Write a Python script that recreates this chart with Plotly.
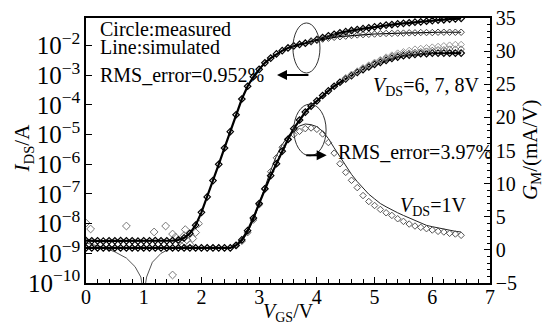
import plotly.graph_objects as go

# ---------------- data ----------------
vgs = [0.0, 0.1, 0.2, 0.3, 0.4, 0.5, 0.6, 0.7, 0.8, 0.9,
       1.0, 1.1, 1.2, 1.3, 1.4, 1.5, 1.6, 1.7, 1.8, 1.9,
       2.0, 2.1, 2.2, 2.3, 2.4, 2.5, 2.6, 2.7, 2.8, 2.9,
       3.0, 3.1, 3.2, 3.3, 3.4, 3.5, 3.6, 3.7, 3.8, 3.9,
       4.0, 4.1, 4.2, 4.3, 4.4, 4.5, 4.6, 4.7, 4.8, 4.9,
       5.0, 5.1, 5.2, 5.3, 5.4, 5.5, 5.6, 5.7, 5.8, 5.9,
       6.0, 6.1, 6.2, 6.3, 6.4, 6.5]

# log10(IDS / A), VDS = 6,7,8 V (upper branch)
ids_log_upper = [-8.57, -8.58, -8.58, -8.59, -8.58, -8.58, -8.57, -8.58, -8.58, -8.59,
                 -8.58, -8.58, -8.57, -8.58, -8.58, -8.57, -8.55, -8.48, -8.33, -8.05,
                 -7.62, -7.10, -6.55, -6.00, -5.45, -4.90, -4.33, -3.80, -3.37, -3.05,
                 -2.80, -2.58, -2.42, -2.28, -2.17, -2.08, -2.01, -1.96, -1.92, -1.86,
                 -1.80, -1.73, -1.67, -1.62, -1.57, -1.53, -1.49, -1.46, -1.43, -1.40,
                 -1.37, -1.34, -1.31, -1.29, -1.27, -1.25, -1.23, -1.21, -1.20, -1.18,
                 -1.16, -1.14, -1.13, -1.11, -1.10, -1.08]
# lower branch at high VGS (from VGS = 3.9 V)
ids_log_lower = [-1.86, -1.82, -1.78, -1.75, -1.72, -1.70, -1.68, -1.66, -1.64, -1.63,
                 -1.62, -1.61, -1.60, -1.59, -1.59, -1.58, -1.58, -1.57, -1.57, -1.56,
                 -1.56, -1.56, -1.55, -1.55, -1.55, -1.55, -1.55]
# scattered noisy measured points in sub-threshold region
noise_vgs = [0.0, 0.08, 0.70, 1.18, 1.38, 1.50, 1.50, 1.55, 1.62, 1.65, 1.70, 1.72,
             1.75, 1.80, 1.85, 1.90, 1.95]
noise_log = [-7.98, -8.18, -8.08, -8.28, -8.08, -8.35, -9.73, -8.45, -8.60, -8.75,
             -8.40, -8.20, -8.55, -8.70, -8.50, -8.30, -8.00]
# simulated |IDS| at low VDS (dips through zero near 1 V)
dip_vgs = [0.0, 0.3, 0.5, 0.7, 0.85, 0.95, 1.0, 1.05, 1.15, 1.3, 1.45, 1.6]
dip_log = [-8.65, -8.80, -8.95, -9.16, -9.45, -9.80, -10.4, -9.80, -9.30, -9.00, -8.85, -8.80]

# GM (mA/V), VDS = 1 V
gm1_meas = [0.3] * 26 + [
    0.6, 1.3, 2.6, 4.5, 6.8, 9.3, 11.8, 13.9, 15.5, 16.6,
    17.4, 17.9, 18.3, 18.4, 18.2, 17.5, 16.2, 14.6, 13.0, 11.7,
    10.5, 9.4, 8.2, 7.3, 6.7, 6.1, 5.6, 5.2, 4.7, 4.3,
    3.9, 3.6, 3.4, 3.2, 3.0, 2.8, 2.7, 2.5, 2.4, 2.2]
gm1_sim = [0.3] * 26 + [
    0.6, 1.3, 2.6, 4.5, 6.9, 9.5, 12.0, 14.2, 15.9, 17.2,
    18.1, 18.7, 19.0, 18.9, 18.6, 17.9, 16.8, 15.4, 14.0, 12.7,
    11.4, 10.3, 9.3, 8.4, 7.7, 7.0, 6.5, 6.0, 5.6, 5.2,
    4.8, 4.4, 4.0, 3.7, 3.5, 3.3, 3.1, 2.9, 2.8, 2.7]
# GM (mA/V), VDS = 6 V
gm6_meas = [0.3] * 26 + [
    0.7, 1.5, 2.9, 4.8, 7.0, 9.2, 11.2, 13.0, 14.9, 16.7,
    18.3, 19.6, 20.8, 21.7, 22.5, 23.3, 24.0, 24.7, 25.3, 25.8,
    26.3, 26.8, 27.2, 27.6, 28.0, 28.3, 28.6, 28.9, 29.1, 29.3,
    29.4, 29.5, 29.6, 29.6, 29.7, 29.7, 29.7, 29.7, 29.7, 29.7]
# GM for VDS = 7 V and 8 V (from VGS = 4.5 V, where they separate)
gm7_meas = [25.9, 26.4, 26.9, 27.4, 27.8, 28.2, 28.6, 28.9, 29.2, 29.4, 29.6,
            29.7, 29.8, 29.9, 30.0, 30.1, 30.2, 30.2, 30.3, 30.3, 30.3]
gm8_meas = [26.0, 26.5, 27.0, 27.5, 27.9, 28.3, 28.7, 29.1, 29.4, 29.7, 29.9,
            30.1, 30.3, 30.4, 30.5, 30.6, 30.7, 30.8, 30.9, 31.0, 31.0]

# ---------------- figure ----------------
FONT = "Liberation Serif, Times New Roman, serif"
fig = go.Figure()

def p10(v):
    return [10 ** a for a in v]

# IDS (left axis)
fig.add_trace(go.Scatter(x=dip_vgs, y=p10(dip_log), mode="lines",
                         line=dict(color="#555555", width=1), yaxis="y"))
fig.add_trace(go.Scatter(x=noise_vgs, y=p10(noise_log), mode="markers",
                         marker=dict(symbol="diamond-open", size=6, color="#777777",
                                     line=dict(width=1)), yaxis="y"))
fig.add_trace(go.Scatter(x=vgs, y=p10(ids_log_upper), mode="lines+markers",
                         line=dict(color="black", width=2.2),
                         marker=dict(symbol="diamond-open", size=5, color="black",
                                     line=dict(width=1.2)), yaxis="y"))
fig.add_trace(go.Scatter(x=vgs[39:], y=p10(ids_log_lower), mode="lines+markers",
                         line=dict(color="black", width=1.2),
                         marker=dict(symbol="diamond-open", size=5, color="#444444",
                                     line=dict(width=1)), yaxis="y"))

# GM (right axis)
fig.add_trace(go.Scatter(x=vgs, y=gm1_sim, mode="lines",
                         line=dict(color="#222222", width=1), yaxis="y2"))
fig.add_trace(go.Scatter(x=vgs, y=gm1_meas, mode="markers",
                         marker=dict(symbol="diamond-open", size=5, color="#555555",
                                     line=dict(width=1)), yaxis="y2"))
fig.add_trace(go.Scatter(x=vgs, y=gm6_meas, mode="lines+markers",
                         line=dict(color="black", width=2.2),
                         marker=dict(symbol="diamond-open", size=5, color="black",
                                     line=dict(width=1.2)), yaxis="y2"))
fig.add_trace(go.Scatter(x=vgs[45:], y=gm7_meas, mode="markers",
                         marker=dict(symbol="diamond-open", size=5, color="#666666",
                                     line=dict(width=1)), yaxis="y2"))
fig.add_trace(go.Scatter(x=vgs[45:], y=gm8_meas, mode="markers",
                         marker=dict(symbol="diamond-open", size=5, color="#999999",
                                     line=dict(width=1)), yaxis="y2"))

axis_common = dict(showline=True, linecolor="black", linewidth=1.5,
                   ticks="inside", tickcolor="black", ticklen=6, tickwidth=1.2,
                   showgrid=False, zeroline=False, automargin=False,
                   tickfont=dict(family=FONT, size=20, color="black"))

fig.update_layout(
    width=547, height=325,
    margin=dict(l=86, r=57, t=18, b=42),
    paper_bgcolor="white", plot_bgcolor="white",
    showlegend=False,
    font=dict(family=FONT, size=20, color="black"),
    xaxis=dict(range=[0, 7], dtick=1, mirror=True, ticklabelstandoff=-5,
               minor=dict(dtick=0.2, ticks="inside", ticklen=4, tickcolor="black"),
               **axis_common),
    yaxis=dict(type="log", range=[-10, -1.07], dtick=1, exponentformat="power",
               **axis_common),
    yaxis2=dict(range=[-5, 35], dtick=5, overlaying="y", side="right",
                minor=dict(dtick=1, ticks="inside", ticklen=3, tickcolor="black"),
                **axis_common),
)

# axis titles placed as annotations (paper coords)
fig.add_annotation(x=(289 - 86.5) / 403.5, y=(283 - 312) / 265, xref="paper", yref="paper",
                   text="<i>V</i><sub>GS</sub>/V", showarrow=False,
                   xanchor="center", yanchor="middle",
                   font=dict(family=FONT, size=20, color="black"))
fig.add_annotation(x=(24 - 86.5) / 403.5, y=(283 - 148) / 265, xref="paper", yref="paper",
                   text="<i>I</i><sub>DS</sub>/A", showarrow=False, textangle=-90,
                   xanchor="center", yanchor="middle",
                   font=dict(family=FONT, size=21, color="black"))
fig.add_annotation(x=(531 - 86.5) / 403.5, y=(283 - 150) / 265, xref="paper", yref="paper",
                   text="<i>G</i><sub>M</sub>/(mA/V)", showarrow=False, textangle=-90,
                   xanchor="center", yanchor="middle",
                   font=dict(family=FONT, size=21, color="black"))

# Ellipses
fig.add_shape(type="circle", xref="x", yref="y2", x0=3.585, x1=4.054, y0=26.7, y1=34.25,
              line=dict(color="#333333", width=1))
fig.add_shape(type="circle", xref="x", yref="y2", x0=3.60, x1=4.16, y0=14.2, y1=22.0,
              line=dict(color="#333333", width=1))

# Arrows
fig.add_annotation(x=3.31, y=26.4, ax=3.88, ay=26.4, xref="x", yref="y2",
                   axref="x", ayref="y2", text="", showarrow=True,
                   arrowhead=2, arrowsize=1, arrowwidth=2, arrowcolor="black")
fig.add_annotation(x=4.17, y=14.3, ax=3.79, ay=14.3, xref="x", yref="y2",
                   axref="x", ayref="y2", text="", showarrow=True,
                   arrowhead=2, arrowsize=1, arrowwidth=2, arrowcolor="black")

def label(text, px, py):
    fig.add_annotation(x=(px - 86.5) / 57.6, y=(283 - py) / 265, xref="x", yref="paper",
                       text=text, showarrow=False, xanchor="left", yanchor="middle",
                       font=dict(family=FONT, size=20, color="black"))

label("Circle:measured", 98, 29)
label("Line:simulated", 98, 47)
label("RMS_error=0.952%", 98, 75)
label("RMS_error=3.97%", 336, 152)
label("<i>V</i><sub>DS</sub>=6, 7, 8V", 371, 86)
label("<i>V</i><sub>DS</sub>=1V", 398, 206)

fig.write_html("out.html")
